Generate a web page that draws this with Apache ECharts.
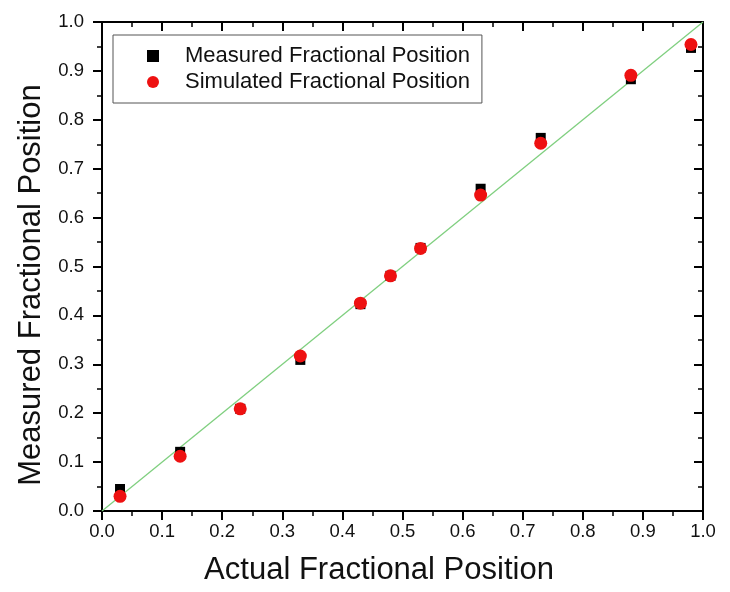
<!DOCTYPE html>
<html>
<head>
<meta charset="utf-8">
<script src="https://cdn.jsdelivr.net/npm/echarts@6/dist/echarts.min.js"></script>
<style>html,body{margin:0;padding:0;background:#fff}#c{width:730px;height:592px}</style>
</head>
<body>
<div id="c"></div>
<script>
var actual = [0.03, 0.13, 0.23, 0.33, 0.43, 0.48, 0.53, 0.63, 0.73, 0.88, 0.98];
var measured = [0.045, 0.121, 0.209, 0.309, 0.423, 0.481, 0.538, 0.659, 0.763, 0.883, 0.947];
var simulated = [0.030, 0.112, 0.209, 0.317, 0.425, 0.481, 0.537, 0.646, 0.752, 0.891, 0.954];
var idealX = [0, 1];
var idealY = [0, 1];
var tickLabels = ['0.0','0.1','0.2','0.3','0.4','0.5','0.6','0.7','0.8','0.9','1.0'];
var seriesNames = ['Measured Fractional Position', 'Simulated Fractional Position'];
var xTitle = 'Actual Fractional Position';
var yTitle = 'Measured Fractional Position';

function pairs(xs, ys) { return xs.map(function (x, i) { return [x, ys[i]]; }); }
function fmt(v) { return tickLabels[Math.round(v * 10)]; }

var FONT = '"Liberation Sans", Arial, sans-serif';
var axisLine = { show: true, onZero: false, lineStyle: { color: '#000', width: 2 } };

function baseAxis(extra) {
  var a = {
    type: 'value', min: 0, max: 1, interval: 0.1,
    axisLine: axisLine,
    axisTick: { show: true, length: 9, inside: false, lineStyle: { color: '#000', width: 2 } },
    minorTick: { show: true, splitNumber: 2, length: 5, lineStyle: { color: '#000', width: 1.5 } },
    splitLine: { show: false },
    axisLabel: { show: true, formatter: fmt, color: '#111', fontSize: 18, fontFamily: FONT }
  };
  for (var k in extra) a[k] = extra[k];
  return a;
}

var chart = echarts.init(document.getElementById('c'), null, { renderer: 'canvas' });
chart.setOption({
  backgroundColor: '#fff',
  animation: false,
  grid: { left: 102, right: 27, top: 22, bottom: 81, containLabel: false },
  legend: {
    orient: 'vertical', left: 113, top: 35,
    padding: [10, 12, 10, 34],
    itemGap: 4, itemWidth: 12, itemHeight: 12,
    borderColor: '#555', borderWidth: 1,
    textStyle: { fontSize: 22, fontFamily: FONT, color: '#111', padding: [0, 0, 0, 21] },
    data: [{ name: seriesNames[0], icon: 'rect' }, { name: seriesNames[1], icon: 'circle' }]
  },
  xAxis: [
    baseAxis({ position: 'bottom', name: xTitle, nameLocation: 'middle', nameGap: 44,
      nameTextStyle: { fontSize: 31, fontFamily: FONT, color: '#111', padding: [0, 47, 0, 0] },
      axisLabel: { show: true, formatter: fmt, color: '#111', fontSize: 18.5, fontFamily: FONT, margin: 11 } }),
    baseAxis({ position: 'top', axisTick: { show: true, length: 9, inside: true, lineStyle: { color: '#000', width: 2 } },
      axisLabel: { show: false } })
  ],
  yAxis: [
    baseAxis({ position: 'left', name: yTitle, nameLocation: 'middle', nameGap: 42,
      nameTextStyle: { fontSize: 31, fontFamily: FONT, color: '#111', padding: [0, 37, 0, 0] },
      axisLabel: { show: true, formatter: fmt, color: '#111', fontSize: 18.5, fontFamily: FONT, margin: 18 } }),
    baseAxis({ position: 'right', axisTick: { show: true, length: 9, inside: true, lineStyle: { color: '#000', width: 2 } },
      axisLabel: { show: false } })
  ],
  series: [
    { type: 'line', name: 'ideal', data: pairs(idealX, idealY), symbol: 'none', silent: true,
      lineStyle: { color: '#7fcf7f', width: 1.3 }, z: 1 },
    { type: 'scatter', name: seriesNames[0], data: pairs(actual, measured), symbol: 'rect', symbolSize: 10,
      itemStyle: { color: '#000', opacity: 1 }, z: 2 },
    { type: 'scatter', name: seriesNames[1], data: pairs(actual, simulated), symbol: 'circle', symbolSize: 13,
      itemStyle: { color: '#ee1111', opacity: 1 }, z: 3 }
  ]
});
</script>
</body>
</html>
